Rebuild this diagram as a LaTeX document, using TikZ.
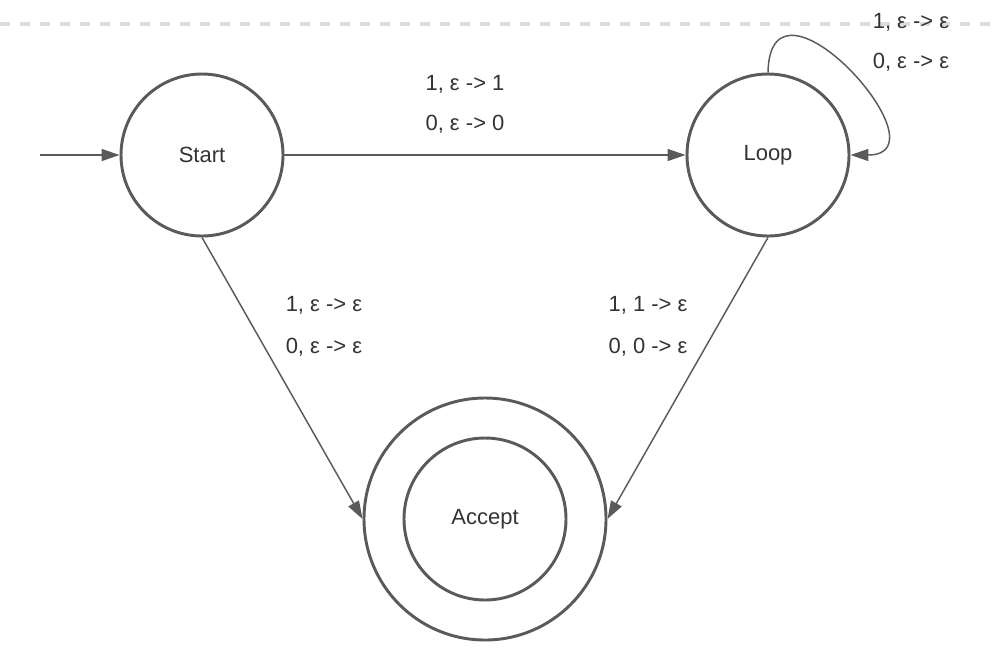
\documentclass[tikz,border=0pt]{standalone}
\usepackage{fontspec}
\setmainfont{Liberation Sans}
\usetikzlibrary{arrows.meta}
\definecolor{linegray}{HTML}{5A5A5A}
\definecolor{textgray}{HTML}{333333}
\definecolor{guidegray}{HTML}{DDDDDD}
\tikzset{
  state/.style={circle, draw=linegray, line width=2.2pt, minimum size=121.5pt,
    inner sep=0pt, text=textgray, font=\fontsize{16.5}{20}\selectfont},
  trans/.style={draw=linegray, line width=1.1pt},
  lbl/.style={text=textgray, font=\fontsize{16.5}{20}\selectfont, inner sep=0pt}
}
\begin{document}
\begin{tikzpicture}[x=0.75pt, y=-0.75pt, >={Triangle[length=13.5pt, width=9pt]}]
    \useasboundingbox (0,0) rectangle (998,662);

    % Đường kẻ mờ phía trên
    \draw[guidegray, line width=2.5pt, dash pattern=on 7.5pt off 7.5pt] (0,24) -- (990,24);

    % Các trạng thái
    \node[state] (start) at (202,155) {Start};
    \node[state] (loop) at (768,155) {Loop};
    \node[state, minimum size=181.5pt] (accept) at (485,519) {Accept};
    \draw[linegray, line width=2.2pt] (accept.center) circle[radius=60.75pt];

    % Mũi tên vào
    \coordinate (entry) at (40,155);
    \draw[->, trans] (entry) -- (start);

    % Các cung chuyển
    \draw[->, trans] (start) -- (loop);
    \draw[->, trans] (start.south) -- (accept.west);
    \draw[->, trans] (loop.south) -- (accept.east);
    \draw[->, trans] (loop.north) .. controls +(2,-118) and +(100,0) .. (loop.east);

    % Nhãn
    \node[lbl] (sl1) at (465,84) {1, ε -> 1};
    \node[lbl] (sl0) at (465,124) {0, ε -> 0};
    \node[lbl] (sa1) at (324,305) {1, ε -> ε};
    \node[lbl] (sa0) at (324,347) {0, ε -> ε};
    \node[lbl] (la1) at (648,305) {1, 1 -> ε};
    \node[lbl] (la0) at (648,347) {0, 0 -> ε};
    \node[lbl] (ll1) at (911,22) {1, ε -> ε};
    \node[lbl] (ll0) at (911,62) {0, ε -> ε};

\end{tikzpicture}
\end{document}
